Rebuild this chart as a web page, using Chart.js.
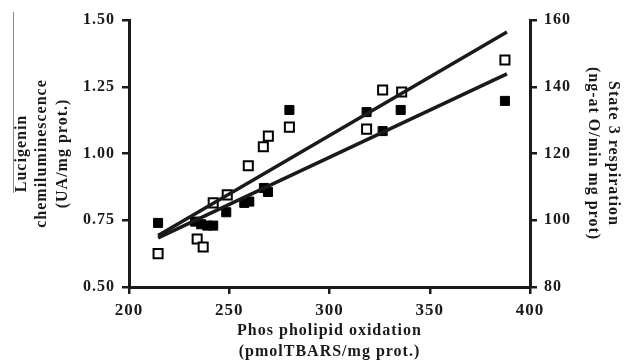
<!DOCTYPE html>
<html>
<head>
<meta charset="utf-8">
<script src="https://cdn.jsdelivr.net/npm/chart.js@4"></script>
<style>
  html, body { margin: 0; padding: 0; background: #fff; }
  #wrap { width: 625px; height: 361px; }
</style>
</head>
<body>
<div id="wrap"><canvas id="chart"></canvas></div>
<script>
// ── Data ──────────────────────────────────────────────────────────────────
// Filled squares: lucigenin chemiluminescence (left axis)
const lucX = [214.5, 233, 236, 239, 242, 248.5, 257.5, 260, 267.3, 269.3, 280, 318.5, 326.5, 335.5, 387.5];
const lucY = [0.74, 0.745, 0.735, 0.73, 0.73, 0.78, 0.815, 0.82, 0.871, 0.856, 1.163, 1.155, 1.084, 1.163, 1.197];

// Open squares: state 3 respiration (right axis)
const respX = [214.5, 234, 237, 242, 249, 259.5, 267, 269.5, 280, 318.5, 326.5, 336, 387.5];
const respY = [90, 94.4, 92, 105.2, 107.6, 116.3, 122, 125.2, 127.9, 127.3, 139, 138.4, 148];

// Regression lines (end points)
const lucFitX  = [214.5, 388.5];
const lucFitY  = [0.684, 1.298];
const respFitX = [214.5, 388.5];
const respFitY = [95.4, 156.4];

const xTitle    = ['Phos pholipid oxidation', '(pmolTBARS/mg prot.)'];
const leftTitle = ['Lucigenin', 'chemiluminescence', '(UA/mg prot.)'];
const rightTitle = ['State 3 respiration', '(ng-at O/min mg prot)'];

const toPts = (xs, ys) => xs.map((x, i) => ({ x, y: ys[i] }));

// ── Style ─────────────────────────────────────────────────────────────────
const INK  = '#1a1a1a';
const FONT = "'Liberation Serif', 'DejaVu Serif', serif";

Chart.defaults.font.family = FONT;
Chart.defaults.font.weight = 'bold';
Chart.defaults.color = INK;

// wide letter spacing like the scanned figure
const spacingPlugin = {
  id: 'spacing',
  beforeUpdate(chart) { chart.ctx.letterSpacing = '1px'; },
  beforeDraw(chart)   { chart.ctx.letterSpacing = '1px'; },
};

// thin grey stroke over "Lucigenin" seen in the original scan
const overlinePlugin = {
  id: 'overline',
  afterDraw(chart) {
    const { ctx } = chart;
    ctx.save();
    ctx.strokeStyle = '#888';
    ctx.lineWidth = 1;
    ctx.beginPath();
    ctx.moveTo(13.5, 12);
    ctx.lineTo(13.5, 193);
    ctx.stroke();
    ctx.restore();
  },
};

const axisGrid = {
  display: true,
  drawOnChartArea: false,
  drawTicks: true,
  tickLength: 7,
  lineWidth: 2.5,
  color: INK,
};
const axisBorder = { display: true, color: INK, width: 3 };

new Chart(document.getElementById('chart'), {
  type: 'scatter',
  data: {
    datasets: [
      {
        type: 'line',
        data: toPts(respFitX, respFitY),
        yAxisID: 'y2',
        borderColor: INK,
        borderWidth: 3.5,
        pointRadius: 0,
        order: 0,
      },
      {
        type: 'line',
        data: toPts(lucFitX, lucFitY),
        yAxisID: 'y',
        borderColor: INK,
        borderWidth: 3.5,
        pointRadius: 0,
        order: 0,
      },
      {
        data: toPts(lucX, lucY),
        yAxisID: 'y',
        pointStyle: 'rect',
        pointRadius: 6.4,
        backgroundColor: '#000',
        borderColor: '#000',
        borderWidth: 1,
        order: 1,
      },
      {
        data: toPts(respX, respY),
        yAxisID: 'y2',
        pointStyle: 'rect',
        pointRadius: 6.4,
        backgroundColor: '#fff',
        borderColor: '#000',
        borderWidth: 2,
        order: 1,
      },
    ],
  },
  options: {
    responsive: true,
    maintainAspectRatio: false,
    animation: false,
    layout: { padding: { top: 20, left: 0, right: 0, bottom: 0 } },
    plugins: { legend: { display: false }, tooltip: { enabled: false } },
    scales: {
      x: {
        type: 'linear',
        min: 200, max: 400,
        grid: axisGrid,
        border: axisBorder,
        ticks: { stepSize: 50, padding: 6, font: { size: 17, weight: 'bold' } },
        title: {
          display: true,
          text: xTitle,
          font: { size: 16, weight: 'bold', lineHeight: 1.3 },
          padding: { top: 0, bottom: -1 },
        },
        afterFit(s) { s.height = 74; },
      },
      y: {
        position: 'left',
        min: 0.5, max: 1.5,
        grid: axisGrid,
        border: axisBorder,
        ticks: {
          stepSize: 0.25, padding: 7,
          font: { size: 16, weight: 'bold' },
          callback: v => v.toFixed(2),
        },
        title: {
          display: true,
          text: leftTitle,
          font: { size: 16, weight: 'bold', lineHeight: 1.3 },
          padding: { top: 11, bottom: 0 },
        },
        afterFit(s) { s.width = 129; },
      },
      y2: {
        position: 'right',
        min: 80, max: 160,
        grid: axisGrid,
        border: axisBorder,
        ticks: { stepSize: 20, padding: 7, font: { size: 16, weight: 'bold' } },
        title: {
          display: true,
          text: rightTitle,
          font: { size: 16, weight: 'bold', lineHeight: 1.3 },
          padding: { top: 1, bottom: 0 },
        },
        afterFit(s) { s.width = 95; },
      },
    },
  },
  plugins: [spacingPlugin, overlinePlugin],
});
</script>
</body>
</html>
